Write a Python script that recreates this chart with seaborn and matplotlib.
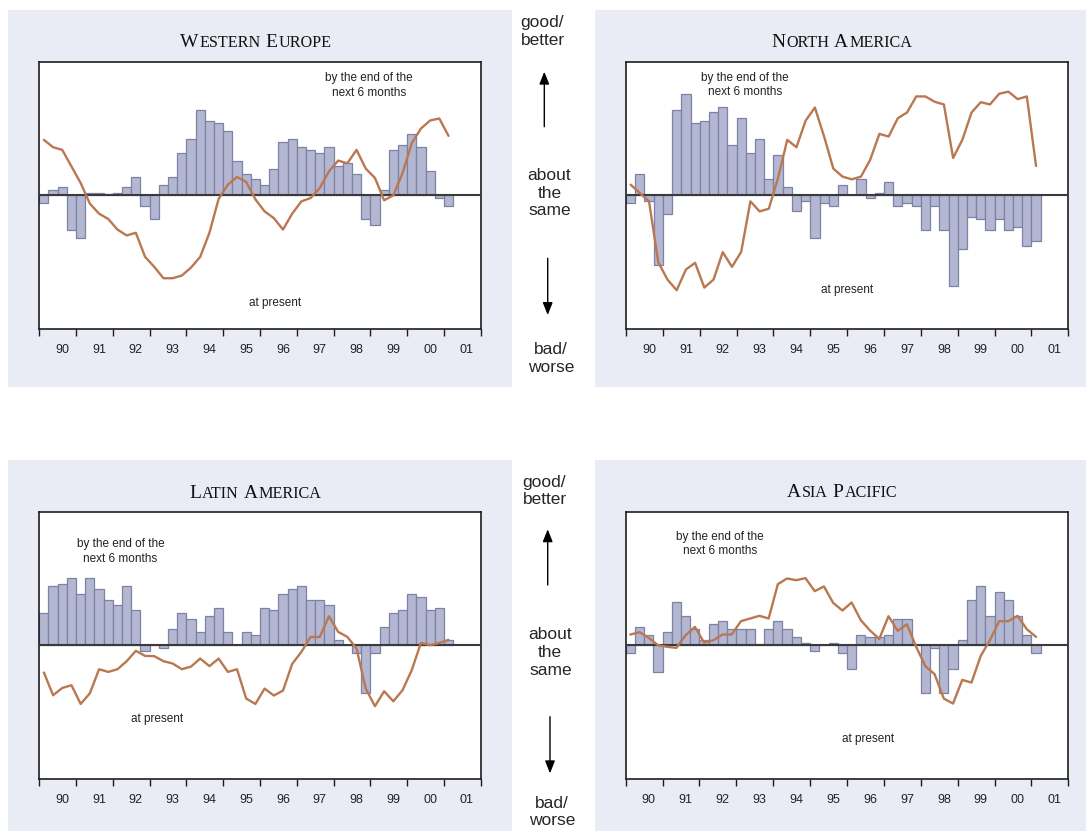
import numpy as np
import pandas as pd
import matplotlib
matplotlib.use("Agg")
import matplotlib.pyplot as plt
import seaborn as sns
from matplotlib.patches import Rectangle, FancyArrowPatch
from matplotlib.ticker import NullFormatter

# ---------------- data (quarterly, 1990Q1 .. 2001Q1) ----------------
year_labels = ["90", "91", "92", "93", "94", "95", "96", "97", "98", "99", "00", "01"]

we_bars = [-6, 4, 6, -26, -32, 2, 2, 1, 2, 6, 14, -8, -18, 8, 14, 32, 42, 64, 56, 54, 48, 26, 16, 12,
           8, 20, 40, 42, 36, 34, 32, 36, 22, 24, 16, -18, -22, 4, 34, 38, 46, 36, 18, -2, -8]
we_line = [41.5, 36, 34, 21.6, 9.2, -6.2, -13.7, -17.7, -25.6, -30, -28, -46, -53.5, -62, -62, -60,
           -54, -46, -28, -2.7, 8, 13.7, 10, -3, -12, -17, -25.6, -13.7, -4.5, -2, 5.5, 18, 26, 24,
           34, 20, 13, -3.7, 0, 16.7, 39, 50, 56, 57.5, 44.5]

na_bars = [-6, 16, -4, -52, -14, 64, 76, 54, 56, 62, 66, 38, 58, 32, 42, 12, 30, 6, -12, -4, -32, -6,
           -8, 8, 0, 12, -2, 2, 10, -8, -6, -8, -26, -8, -26, -68, -40, -16, -18, -26, -18, -26, -24,
           -38, -34]
na_line = [8, 1.7, -4.5, -50, -63, -71, -55.5, -50.5, -69, -63, -42.5, -53.5, -42.3, -4.5, -12, -10,
           13, 41.5, 36, 56, 65.7, 44, 20, 14, 12, 14, 26.6, 46, 44, 57.7, 62, 74, 74, 70, 68, 28,
           41.5, 62, 69.7, 68, 76, 77.6, 72, 74, 22]

la_bars = [24, 44, 46, 50, 38, 50, 42, 34, 30, 44, 26, -4, 0, -2, 12, 24, 20, 10, 22, 28, 10, 0, 10, 8,
           28, 26, 38, 42, 44, 34, 34, 30, 4, 0, -6, -36, -6, 14, 24, 26, 38, 36, 26, 28, 4]
la_line = [-20.5, -37.5, -32, -30, -44, -36, -18, -20, -18, -12, -4.2, -8, -8.2, -12, -13.7, -18, -16,
           -10, -15.7, -10, -20, -18, -40, -44, -32.5, -37.7, -34, -14, -5, 6.2, 6.2, 21.7, 10, 6.2,
           -2.5, -32.5, -45.7, -34.5, -42, -33.7, -18.7, 1.7, 0, 1.7, 4]

ap_bars = [-6, 14, 8, -20, 10, 32, 22, 12, 4, 16, 18, 12, 12, 12, 1, 12, 18, 12, 6, 2, -4, 0, 2, -6,
           -18, 8, 6, 6, 8, 20, 20, 0, -36, -2, -36, -18, 4, 34, 44, 22, 40, 34, 22, 8, -6]
ap_line = [8, 9.7, 5.5, 0, -1.2, -2, 7.5, 13.7, 2, 3.7, 8, 8, 18, 20, 22, 20, 45.7, 50, 48.7, 50.2,
           40.5, 44, 31.7, 26, 32, 18.7, 11, 4.7, 21.7, 10.7, 15.7, -1.2, -15.7, -21.7, -40, -43.7,
           -26, -28, -8, 3.7, 18, 18, 22, 12, 6.2]

titles = ["Western Europe", "North America", "Latin America", "Asia Pacific"]
label_future = "by the end of the\nnext 6 months"
label_now = "at present"

# ---------------- style ----------------
W, H = 1086, 831
PANEL_BG = "#E9EBF5"
BAR = "#B4B7D2"
EDGE = "#7D82A5"
LINE = "#B97850"
ZERO = "#3A3A3A"
SPINE = "#1E1E1E"

sns.set_style("white")
plt.rcParams["font.family"] = ["Liberation Sans", "DejaVu Sans"]

fig = plt.figure(figsize=(W / 100, H / 100), dpi=100, facecolor="white")


def fx(px):
    return px / W


def fy(py):
    return 1 - py / H


# panel backgrounds
for (x0, y0, x1, y1) in [(8, 10, 512, 387), (595, 10, 1086, 387),
                         (8, 460, 512, 831), (595, 460, 1086, 831)]:
    fig.add_artist(Rectangle((fx(x0), fy(y1)), (x1 - x0) / W, (y1 - y0) / H,
                             transform=fig.transFigure, facecolor=PANEL_BG,
                             edgecolor="none", zorder=-5))

panels = [
    dict(title=titles[0], bars=we_bars, line=we_line, rect=(39.3, 480.7, 61.7, 329.0),
         tb=(46.7, 255.5), fut=(0.747, 0.911), now=(0.534, 0.097)),
    dict(title=titles[1], bars=na_bars, line=na_line, rect=(626.0, 1068.3, 61.7, 329.0),
         tb=(46.7, 841.5), fut=(0.269, 0.913), now=(0.500, 0.146)),
    dict(title=titles[2], bars=la_bars, line=la_line, rect=(39.3, 480.7, 511.7, 778.7),
         tb=(498.5, 255.5), fut=(0.184, 0.851), now=(0.266, 0.224)),
    dict(title=titles[3], bars=ap_bars, line=ap_line, rect=(625.7, 1068.3, 511.7, 778.7),
         tb=(497.0, 842.0), fut=(0.213, 0.879), now=(0.547, 0.149)),
]

renderer = fig.canvas.get_renderer()


def smallcaps(text, xc, yb, big=14, small=11.6):
    words = text.split(" ")
    sp = 0.25 * big * 100 / 72
    items, x = [], 0.0
    for wi, w in enumerate(words):
        if wi > 0:
            x += sp
        t1 = fig.text(0, fy(yb), w[0].upper(), fontsize=big, family="Liberation Serif",
                      va="baseline", ha="left", color="#111111")
        items.append((t1, x))
        x += t1.get_window_extent(renderer).width + 1.0
        if len(w) > 1:
            t2 = fig.text(0, fy(yb), w[1:].upper(), fontsize=small, family="Liberation Serif",
                          va="baseline", ha="left", color="#111111")
            items.append((t2, x))
            x += t2.get_window_extent(renderer).width
    x0 = xc - x / 2
    for t, off in items:
        t.set_x(fx(x0 + off))


for p in panels:
    x0, x1, yt, yb = p["rect"]
    ax = fig.add_axes([fx(x0), fy(yb), (x1 - x0) / W, (yb - yt) / H])
    ax.set_facecolor("white")
    df = pd.DataFrame({"q": np.arange(len(p["bars"])), "bar": p["bars"], "line": p["line"]})
    sns.barplot(data=df, x="q", y="bar", native_scale=True, width=1.0, color=BAR,
                edgecolor=EDGE, linewidth=0.9, saturation=1, errorbar=None, orient="x",
                ax=ax, zorder=2)
    ax.axhline(0, color=ZERO, lw=1.5, zorder=3)
    sns.lineplot(data=df, x="q", y="line", color=LINE, lw=1.7, ax=ax, zorder=4,
                 errorbar=None)
    ax.set_xlim(-0.5, 47.5)
    ax.set_ylim(-100, 100)
    ax.set_xlabel("")
    ax.set_ylabel("")
    ax.set_yticks([])
    ax.set_xticks(np.arange(-0.5, 48, 4))
    ax.xaxis.set_major_formatter(NullFormatter())
    ax.set_xticks(np.arange(2.0, 48, 4), labels=year_labels, minor=True)
    ax.tick_params(axis="x", which="major", bottom=True, direction="out", length=5,
                   width=1.0, color=SPINE)
    ax.tick_params(axis="x", which="minor", bottom=True, length=0, pad=11,
                   labelsize=9, labelcolor="#222222")
    for s in ax.spines.values():
        s.set_visible(True)
        s.set_color(SPINE)
        s.set_linewidth(1.2)
    ax.grid(False)
    ax.text(p["fut"][0], p["fut"][1], label_future, transform=ax.transAxes, ha="center",
            va="center", fontsize=8.5, color="#222222", linespacing=1.25, zorder=6)
    ax.text(p["now"][0], p["now"][1], label_now, transform=ax.transAxes, ha="center",
            va="center", fontsize=8.5, color="#222222", zorder=6)
    smallcaps(p["title"], p["tb"][1], p["tb"][0])

# centre column legends
mid_font = 12.5
mid_ls = 1.22
fig.text(fx(520.7), fy(31.5), "good/\nbetter", ha="left", va="center", fontsize=mid_font,
         linespacing=mid_ls)
fig.text(fx(549.5), fy(193.0), "about\nthe\nsame", ha="center", va="center", fontsize=mid_font,
         linespacing=mid_ls)
fig.text(fx(551.0), fy(358.5), "bad/\nworse", ha="center", va="center", fontsize=mid_font,
         linespacing=mid_ls)
fig.text(fx(522.7), fy(491.0), "good/\nbetter", ha="left", va="center", fontsize=mid_font,
         linespacing=mid_ls)
fig.text(fx(550.3), fy(652.5), "about\nthe\nsame", ha="center", va="center", fontsize=mid_font,
         linespacing=mid_ls)
fig.text(fx(552.0), fy(812.0), "bad/\nworse", ha="center", va="center", fontsize=mid_font,
         linespacing=mid_ls)

for (x, ya, yb_) in [(544.3, 126.7, 71.7), (547.7, 258.3, 315.0),
                     (547.7, 585.0, 529.3), (550.0, 716.7, 773.3)]:
    fig.add_artist(FancyArrowPatch((fx(x), fy(ya)), (fx(x), fy(yb_)),
                                   transform=fig.transFigure,
                                   arrowstyle="-|>,head_length=0.75,head_width=0.3",
                                   mutation_scale=10, lw=1.0, color="black",
                                   shrinkA=0, shrinkB=0))

fig.savefig("out.png", dpi=100, facecolor="white")
